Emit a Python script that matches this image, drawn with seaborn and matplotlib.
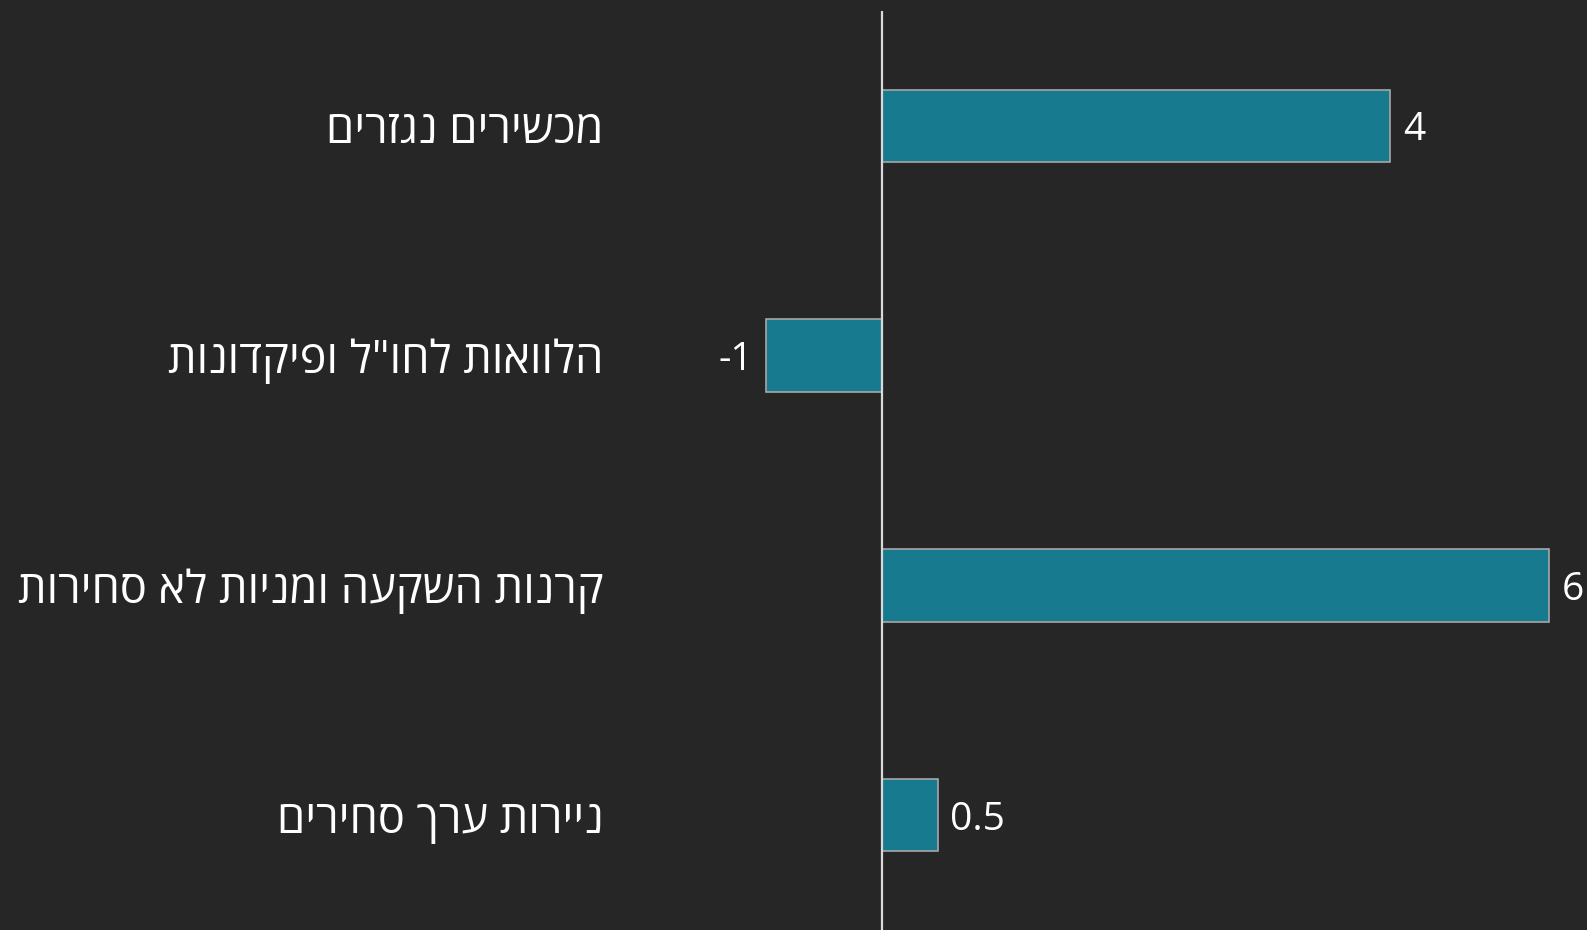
import pandas as pd
import matplotlib
matplotlib.use("Agg")
import matplotlib.pyplot as plt
import seaborn as sns

# -------------------------------
# DATA
# -------------------------------
categories = [
    "מכשירים נגזרים",
    'הלוואות לחו"ל ופיקדונות',
    "קרנות השקעה ומניות לא סחירות",
    "ניירות ערך סחירים",
]
values = [4.57, -1.05, 6.0, 0.5]
value_labels = ["4", "-1", "6", "0.5"]

# matplotlib draws left-to-right, so Hebrew text is reversed for display
display_cats = [c[::-1] for c in categories]

df = pd.DataFrame({"category": display_cats, "value": values})

# -------------------------------
# STYLE
# -------------------------------
bg = "#262626"
bar_color = "#177a8f"

sns.set_style("dark")
plt.rcParams["font.family"] = ["Open Sans", "DejaVu Sans"]

fig = plt.figure(figsize=(15.87, 9.30), dpi=100, facecolor=bg)
ax = fig.add_axes([620 / 1587, 0, 1 - 620 / 1587, 919 / 930])
ax.set_facecolor(bg)

sns.barplot(
    data=df,
    x="value",
    y="category",
    orient="h",
    color=bar_color,
    saturation=1,
    width=0.315,
    edgecolor="#a6a6a6",
    linewidth=1.2,
    ax=ax,
)

# zero line
ax.axvline(0, color="#d9d9d9", linewidth=1.6)

ax.set_xlim(-2.36, 6.34)
ax.set_ylim(3.5, -0.5)

texts = ax.bar_label(
    ax.containers[0],
    labels=value_labels,
    padding=9,
    color="white",
    fontsize=28,
    clip_on=False,
)
for t in texts:
    t.set_va("center_baseline")

ax.set_xticks([])
ax.set_xlabel("")
ax.set_ylabel("")
ax.tick_params(axis="y", length=0, pad=12, labelsize=32.5, labelcolor="white")
for lab in ax.get_yticklabels():
    lab.set_va("center_baseline")
for s in ax.spines.values():
    s.set_visible(False)
ax.grid(False)

plt.savefig("out.png", dpi=100, facecolor=bg)
